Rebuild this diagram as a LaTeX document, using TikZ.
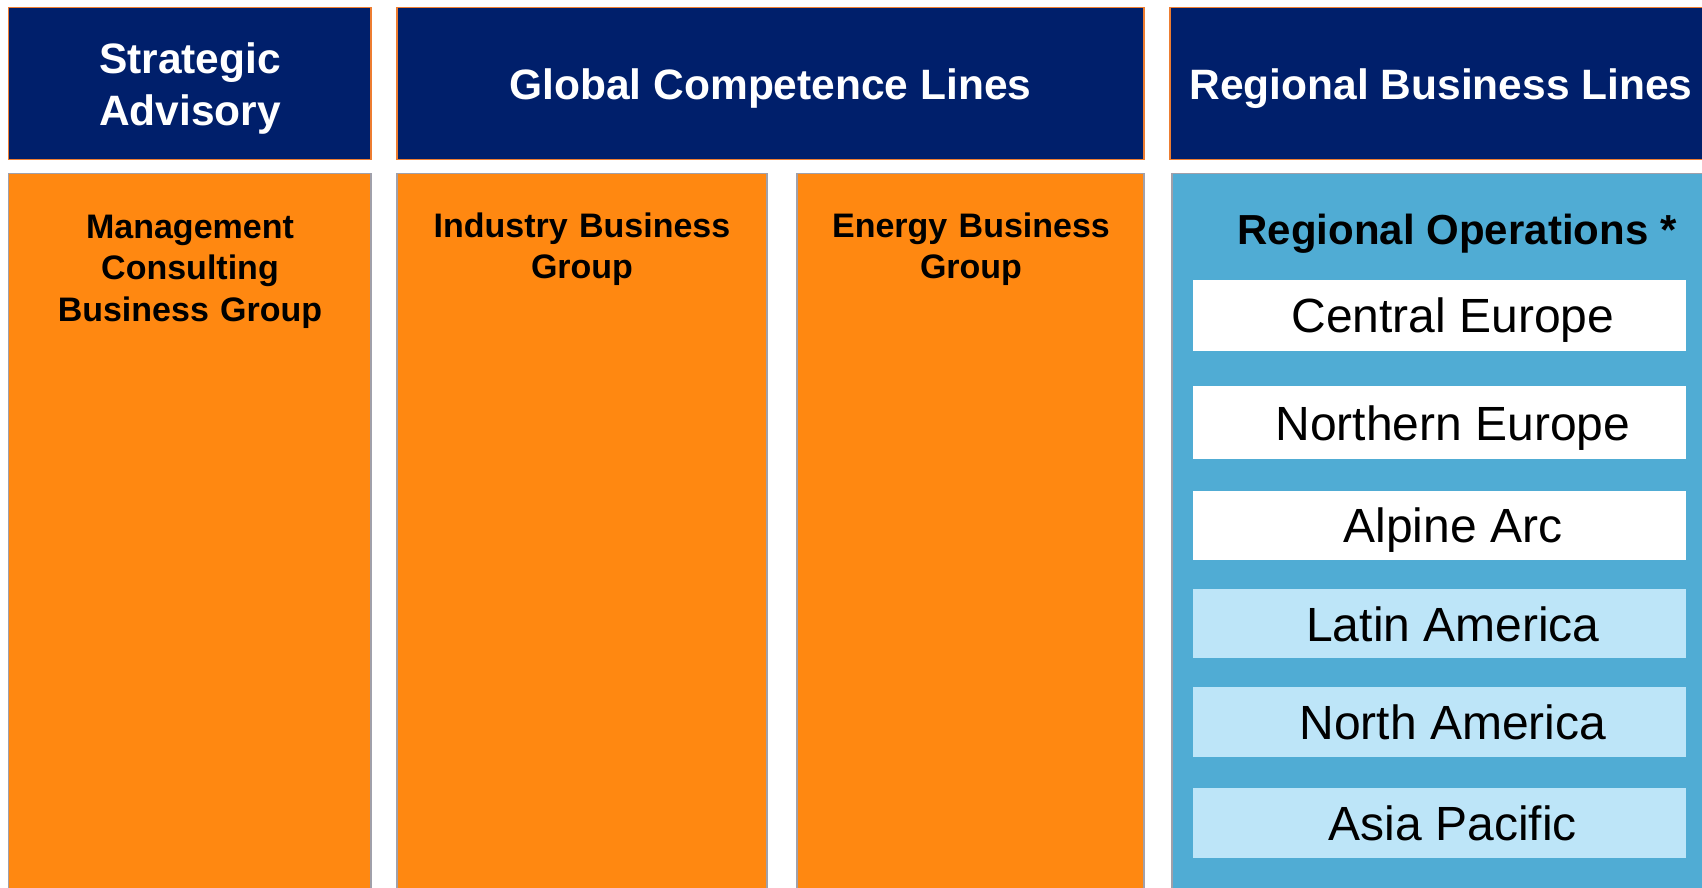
\documentclass[tikz,border=0pt]{standalone}
\usepackage{fontspec}
\setmainfont{Liberation Sans}
\definecolor{navy}{RGB}{0,31,107}
\definecolor{hdrline}{RGB}{237,125,49}
\definecolor{orangefill}{RGB}{255,136,17}
\definecolor{grayline}{RGB}{160,160,170}
\definecolor{panelblue}{RGB}{80,172,212}
\definecolor{lightblue}{RGB}{189,229,248}
\tikzset{
  sized/.style n args={2}{minimum width=#1, minimum height=#2, inner sep=0pt, outer sep=0pt, rectangle},
  hdrbox/.style={draw=hdrline, line width=1.3pt, fill=navy},
  colbox/.style={draw=grayline, line width=1.2pt, fill=orangefill},
  panelbox/.style={draw=grayline, line width=1.2pt, fill=panelblue},
  whitebox/.style={fill=white},
  lightbox/.style={fill=lightblue},
  hdrtxt/.style={text=white, font=\fontsize{42.5}{52}\selectfont\bfseries, align=center, anchor=base, inner sep=0pt},
  coltxt/.style={text=black, font=\fontsize{34}{41.5}\selectfont\bfseries, align=center, anchor=base, inner sep=0pt},
  optxt/.style={text=black, font=\fontsize{42}{50}\selectfont\bfseries, anchor=base, inner sep=0pt},
  regtxt/.style={text=black, font=\fontsize{48}{56}\selectfont, anchor=base, inner sep=0pt}
}
\begin{document}
\begin{tikzpicture}[x=1pt,y=-1pt]
\useasboundingbox (0,0) rectangle (1702,887);
\clip (0,0) rectangle (1702,887);
% headers
\node[sized={362.3pt}{152.2pt}, hdrbox] (sa) at (189.9,83.7) {};
\node[sized={747pt}{152.2pt}, hdrbox] (gcl) at (770.5,83.7) {};
\node[sized={542pt}{152.2pt}, hdrbox] (rbl) at (1441,83.7) {};
\node[hdrtxt, text width=350pt] (satxt) at (190,73) {Strategic\\Advisory};
\node[hdrtxt] (gcltxt) at (770.5,99) {Global Competence Lines};
\node[hdrtxt] (rbltxt) at (1441,99) {Regional Business Lines};
% orange columns
\node[sized={362.3pt}{760pt}, colbox, anchor=north] (mc) at (189.9,173.7) {};
\node[sized={370pt}{760pt}, colbox, anchor=north] (ib) at (582,173.7) {};
\node[sized={347pt}{760pt}, colbox, anchor=north] (eb) at (970.5,173.7) {};
\node[coltxt, text width=340pt] (mctxt) at (190,238) {Management\\Consulting\\Business Group};
\node[coltxt, text width=350pt] (ibtxt) at (582,237) {Industry Business\\Group};
\node[coltxt, text width=340pt] (ebtxt) at (971,237) {Energy Business\\Group};
% regional panel
\node[sized={540pt}{760pt}, panelbox, anchor=north west] (ro) at (1172,173.7) {};
\node[optxt] (rotxt) at (1457,244) {Regional Operations *};
\node[sized={493pt}{70.6pt}, whitebox] (ce) at (1439.5,315.3) {};
\node[sized={493pt}{72.8pt}, whitebox] (ne) at (1439.5,422.8) {};
\node[sized={493pt}{69.4pt}, whitebox] (aa) at (1439.5,525.3) {};
\node[sized={493pt}{68.4pt}, lightbox] (la) at (1439.5,623.6) {};
\node[sized={493pt}{69.6pt}, lightbox] (na) at (1439.5,721.8) {};
\node[sized={493pt}{69.5pt}, lightbox] (ap) at (1439.5,822.8) {};
\node[regtxt] (cetxt) at (1453,332) {Central Europe};
\node[regtxt] (netxt) at (1453,440) {Northern Europe};
\node[regtxt] (aatxt) at (1453,542) {Alpine Arc};
\node[regtxt] (latxt) at (1453,641) {Latin America};
\node[regtxt] (natxt) at (1453,739) {North America};
\node[regtxt] (aptxt) at (1453,840) {Asia Pacific};
\end{tikzpicture}
\end{document}
